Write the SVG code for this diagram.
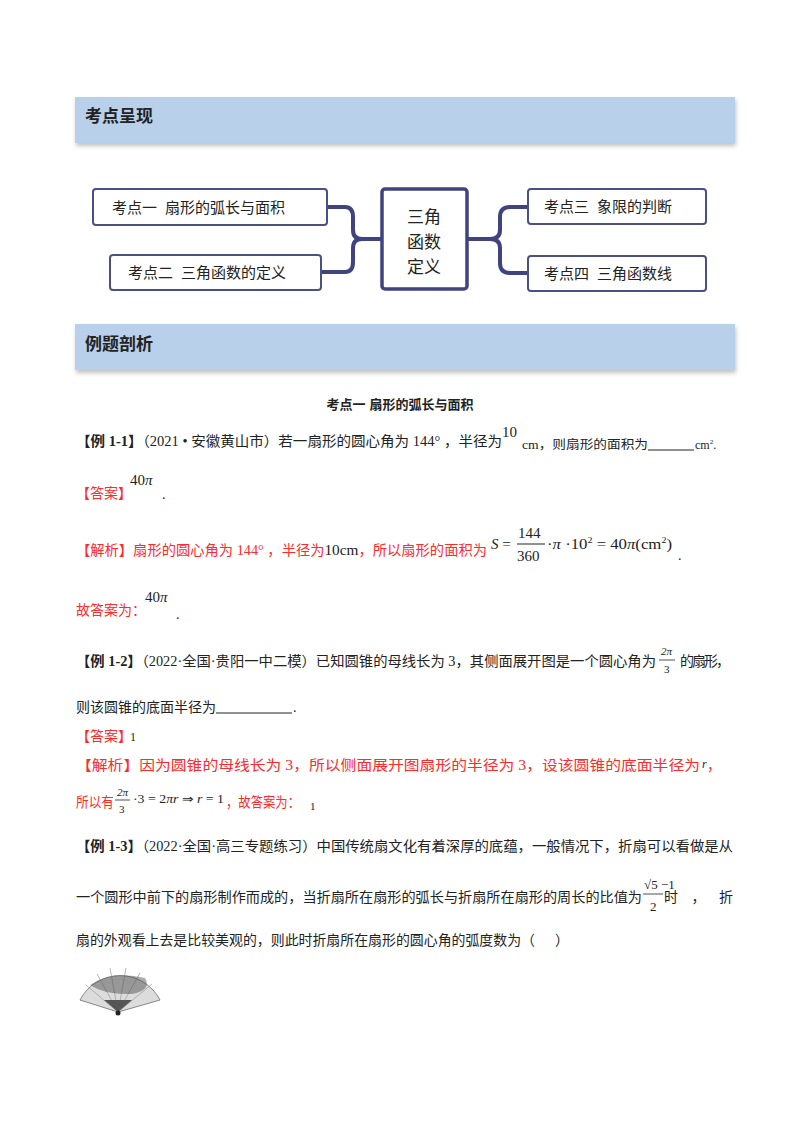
<svg xmlns="http://www.w3.org/2000/svg" width="800" height="1132" viewBox="0 0 800 1132">
<style>
.t{font-family:"Liberation Serif","Noto Sans CJK SC",serif;font-size:14px;fill:#222}
.r{fill:#ff2a2a}
.h{font-family:"Noto Sans CJK SC",sans-serif;font-size:17px;font-weight:bold;fill:#222}
.n{font-family:"Noto Sans CJK SC",sans-serif;font-size:15px;fill:#222}
.box{fill:#fff;stroke:#4a4f86;stroke-width:2}
.bar{fill:#b8d0ea}
.m{font-family:"Liberation Serif",serif;font-size:15px;fill:#222}
.i{font-style:italic}
.c{fill:none;stroke:#3f447e;stroke-width:4}
.u{stroke:#222;stroke-width:1}
</style>
<defs><filter id="sh" x="-5%" y="-20%" width="110%" height="150%"><feDropShadow dx="1" dy="3" stdDeviation="2" flood-color="#999" flood-opacity="0.6"/></filter></defs>
<rect width="800" height="1132" fill="#fff"/>
<rect class="bar" x="75" y="97" width="660" height="46" filter="url(#sh)"/>
<text class="h" x="85" y="122">考点呈现</text>
<g id="connectors">
<path class="c" d="M327 207 H345 Q353 207 353 217 V230 Q353 239 362 239 H381"/>
<path class="c" d="M321 272 H345 Q353 272 353 262 V248 Q353 239 362 239"/>
<path class="c" d="M528 207 H510 Q500 207 500 217 V230 Q500 239 490 239 H467"/>
<path class="c" d="M528 273 H510 Q500 273 500 263 V248 Q500 239 490 239"/>
</g>
<g id="n1"><rect class="box" x="93" y="189" width="234" height="36" rx="3"/><text class="n" x="112" y="213">考点一<tspan dx="8">扇形的弧长与面积</tspan></text></g>
<g id="n2"><rect class="box" x="110" y="255" width="211" height="35" rx="3"/><text class="n" x="128" y="278">考点二<tspan dx="8">三角函数的定义</tspan></text></g>
<g id="center"><rect x="382" y="189" width="85" height="100" rx="3" fill="#fff" stroke="#3f447e" stroke-width="3.5"/><text class="n" x="424" y="223" text-anchor="middle" style="font-size:17px">三角</text><text class="n" x="424" y="248" text-anchor="middle" style="font-size:17px">函数</text><text class="n" x="424" y="273" text-anchor="middle" style="font-size:17px">定义</text></g>
<g id="n3"><rect class="box" x="528" y="189" width="178" height="35" rx="3"/><text class="n" x="544" y="212">考点三<tspan dx="8">象限的判断</tspan></text></g>
<g id="n4"><rect class="box" x="528" y="256" width="178" height="35" rx="3"/><text class="n" x="544" y="279">考点四<tspan dx="8">三角函数线</tspan></text></g>
<rect class="bar" x="75" y="324" width="660" height="46" filter="url(#sh)"/>
<text class="h" x="85" y="350">例题剖析</text>
<text class="t" x="400" y="409" text-anchor="middle" font-weight="bold" style="font-size:13px">考点一<tspan dx="4">扇形的弧长与面积</tspan></text>

<text class="t" x="76" y="446" textLength="426" lengthAdjust="spacingAndGlyphs"><tspan font-weight="bold">【例 1-1】</tspan>（2021 • 安徽黄山市）若一扇形的圆心角为 144° ，半径为</text>
<text class="m" x="502" y="437">10</text>
<text class="t" x="522" y="449" style="font-size:12px" textLength="126" lengthAdjust="spacingAndGlyphs">cm，则扇形的面积为</text>
<line class="u" x1="648" y1="450" x2="694" y2="450"/>
<text class="t" x="695" y="449" style="font-size:12px">cm<tspan dy="-5" style="font-size:7px">2</tspan><tspan dy="5">.</tspan></text>

<text class="t r" x="76" y="498">【答案】</text>
<text class="m" x="130" y="485">40<tspan class="i">π</tspan></text>
<text class="t" x="162" y="499">.</text>

<text class="t r" x="76" y="555" textLength="411" lengthAdjust="spacingAndGlyphs">【解析】扇形的圆心角为 144° ，半径为<tspan class="m r">10cm</tspan>，所以扇形的面积为</text>
<text class="m" x="491" y="549"><tspan class="i">S</tspan> =</text>
<text class="m" x="518" y="538">144</text>
<line x1="517" y1="544" x2="545" y2="544" stroke="#222" stroke-width="1"/>
<text class="m" x="517" y="561">360</text>
<text class="m" x="547" y="549" textLength="125" lengthAdjust="spacingAndGlyphs">·<tspan class="i">π</tspan> ·10<tspan dy="-6" style="font-size:9px">2</tspan><tspan dy="6"> = 40</tspan><tspan class="i">π</tspan>(cm<tspan dy="-6" style="font-size:9px">2</tspan><tspan dy="6">)</tspan></text>
<text class="t" x="678" y="560">.</text>

<text class="t r" x="76" y="615">故答案为：</text>
<text class="m" x="145" y="602">40<tspan class="i">π</tspan></text>
<text class="t" x="176" y="619">.</text>

<text class="t" x="76" y="666" textLength="580" lengthAdjust="spacingAndGlyphs"><tspan font-weight="bold">【例 1-2】</tspan>（2022·全国·贵阳一中二模）已知圆锥的母线长为 3，其侧面展开图是一个圆心角为</text>
<text class="m i" x="661" y="655" style="font-size:11px">2π</text>
<line x1="659" y1="660" x2="675" y2="660" stroke="#222" stroke-width="0.8"/>
<text class="m" x="664" y="673" style="font-size:11px">3</text>
<text class="t" x="680" y="666" textLength="50" lengthAdjust="spacing">的扇形，</text>

<text class="t" x="76" y="712" textLength="140" lengthAdjust="spacingAndGlyphs">则该圆锥的底面半径为</text>
<line class="u" x1="216" y1="713" x2="292" y2="713"/>
<text class="t" x="293" y="712">.</text>

<text class="t r" x="76" y="741">【答案】</text>
<text class="m" x="130" y="741" style="font-size:12px">1</text>

<text class="t r" x="76" y="770" textLength="624" lengthAdjust="spacingAndGlyphs">【解析】因为圆锥的母线长为 3，所以侧面展开图扇形的半径为 3，设该圆锥的底面半径为</text>
<text class="m i" x="702" y="768" style="font-size:12px">r</text>
<text class="t r" x="707" y="770">，</text>

<text class="t r" x="76" y="807" textLength="38" lengthAdjust="spacingAndGlyphs">所以有</text>
<text class="m i" x="117" y="796" style="font-size:11px">2π</text>
<line x1="115" y1="800" x2="130" y2="800" stroke="#222" stroke-width="0.8"/>
<text class="m" x="119" y="813" style="font-size:11px">3</text>
<text class="m" x="133" y="803" style="font-size:12px" textLength="91" lengthAdjust="spacingAndGlyphs">·3 = 2<tspan class="i">πr</tspan> ⇒ <tspan class="i">r</tspan> = 1</text>
<text class="t r" x="226" y="807" textLength="74" lengthAdjust="spacingAndGlyphs">，故答案为：</text>
<text class="m" x="310" y="810" style="font-size:11px">1</text>

<text class="t" x="76" y="851" textLength="657" lengthAdjust="spacingAndGlyphs"><tspan font-weight="bold">【例 1-3】</tspan>（2022·全国·高三专题练习）中国传统扇文化有着深厚的底蕴，一般情况下，折扇可以看做是从</text>
<text class="t" x="76" y="902" textLength="566" lengthAdjust="spacingAndGlyphs">一个圆形中前下的扇形制作而成的，当折扇所在扇形的弧长与折扇所在扇形的周长的比值为</text>
<text class="m" x="644" y="889" style="font-size:13px">√5 −1</text>
<line x1="643" y1="894" x2="663" y2="894" stroke="#222" stroke-width="0.8"/>
<text class="m" x="650" y="911" style="font-size:13px">2</text>
<text class="t" x="664" y="902" textLength="69" lengthAdjust="spacing">时，折</text>
<text class="t" x="76" y="945" textLength="459" lengthAdjust="spacingAndGlyphs">扇的外观看上去是比较美观的，则此时折扇所在扇形的圆心角的弧度数为（</text>
<text class="t" x="555" y="945">）</text>

<g id="fan">
<path d="M118 1012 L80 1000 A45 45 0 0 1 160 1000 Z" fill="#dcdcdc" stroke="#888" stroke-width="1"/>
<path d="M118 1012 L86 985 M118 1012 L97 974 M118 1012 L110 968 M118 1012 L126 968 M118 1012 L140 973 M118 1012 L152 984" stroke="#999" stroke-width="0.7"/>
<path d="M90 985 Q112 970 145 978 Q152 990 132 994 Q105 995 90 985Z" fill="#444" opacity="0.45"/>
<path d="M104 1000 L118 1012 L132 1000 Z" fill="#555"/>
<circle cx="118" cy="1013" r="2.5" fill="#222"/>
</g>
</svg>
